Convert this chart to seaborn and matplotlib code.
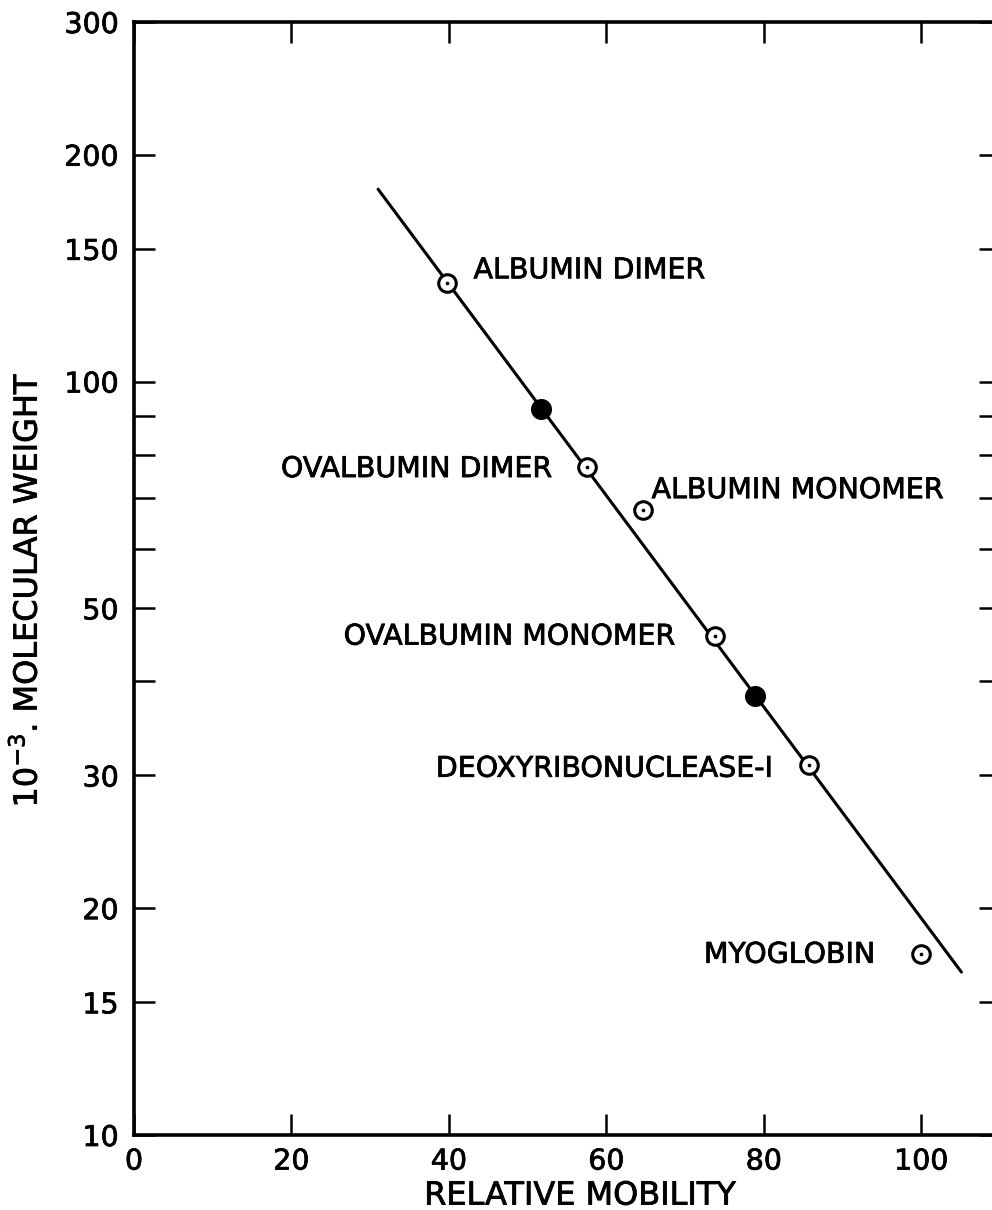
import matplotlib
matplotlib.use("Agg")
import matplotlib.pyplot as plt
import matplotlib.patheffects as pe
import seaborn as sns
import pandas as pd
from matplotlib.ticker import FixedLocator, FixedFormatter, NullLocator

# Calibration standards: relative mobility vs molecular weight (x 10^-3)
standards = ["ALBUMIN DIMER", "OVALBUMIN DIMER", "ALBUMIN MONOMER",
             "OVALBUMIN MONOMER", "DEOXYRIBONUCLEASE-I", "MYOGLOBIN"]
std_mobility = [39.7, 57.5, 64.6, 73.8, 85.7, 100.0]
std_mw = [135.0, 77.0, 67.5, 46.0, 31.0, 17.4]

# Unknown species (filled symbols)
unk_mobility = [51.7, 78.9]
unk_mw = [92.0, 38.3]

# Calibration line endpoints
fit_mobility = [31.0, 105.1]
fit_mw = [180.0, 16.45]

# Axis ticks
x_ticks = [0, 20, 40, 60, 80, 100]
x_tick_labels = ["0", "20", "40", "60", "80", "100"]
y_ticks = [10, 15, 20, 30, 40, 50, 60, 70, 80, 90, 100, 150, 200, 300]
y_tick_labels = ["10", "15", "20", "30", "", "50", "", "", "", "", "100", "150", "200", "300"]

sns.set_theme(style="ticks")
plt.rcParams["font.family"] = ["DejaVu Sans"]

# slightly heavier lettering
ink = [pe.withStroke(linewidth=0.55, foreground="black")]

fig = plt.figure(figsize=(9.92, 12.10), dpi=100)
ax = fig.add_axes([134 / 992, 75 / 1210, 866 / 992, 1113 / 1210])

std_df = pd.DataFrame({"mobility": std_mobility, "mw": std_mw, "protein": standards})
unk_df = pd.DataFrame({"mobility": unk_mobility, "mw": unk_mw})
fit_df = pd.DataFrame({"mobility": fit_mobility, "mw": fit_mw})

sns.lineplot(data=fit_df, x="mobility", y="mw", ax=ax, color="black",
             linewidth=2.2, zorder=2)
sns.scatterplot(data=std_df, x="mobility", y="mw", ax=ax, s=160, marker="o",
                facecolor="white", edgecolor="black", linewidth=2.2, zorder=3)
sns.scatterplot(data=std_df, x="mobility", y="mw", ax=ax, s=7, marker="o",
                color="black", edgecolor="black", linewidth=0, zorder=4)
sns.scatterplot(data=unk_df, x="mobility", y="mw", ax=ax, s=230, marker="o",
                color="black", edgecolor="black", linewidth=0, zorder=4)

# Label placement relative to each symbol (pixels: dx, dy to baseline, alignment)
label_offsets = [(27, 5, "left"), (-35, -10, "right"), (9, 12, "left"),
                 (-40, -9, "right"), (-36, -12, "right"), (-46, -9, "right")]
for name, xv, yv, (dx, dy, ha) in zip(standards, std_mobility, std_mw, label_offsets):
    ax.annotate(name, xy=(xv, yv), xytext=(dx * 0.72, dy * 0.72),
                textcoords="offset points", ha=ha, va="baseline",
                fontsize=20.5, color="black", path_effects=ink)

ax.set_yscale("log")
ax.set_xlim(0, 110)
ax.set_ylim(10, 300)

ax.xaxis.set_major_locator(FixedLocator(x_ticks))
ax.xaxis.set_major_formatter(FixedFormatter(x_tick_labels))
ax.yaxis.set_major_locator(FixedLocator(y_ticks))
ax.yaxis.set_major_formatter(FixedFormatter(y_tick_labels))
ax.xaxis.set_minor_locator(NullLocator())
ax.yaxis.set_minor_locator(NullLocator())

ax.tick_params(axis="both", which="major", direction="in", length=15, width=1.8,
               top=True, right=True, labelsize=20.5, colors="black")
ax.tick_params(axis="x", pad=9)
ax.tick_params(axis="y", pad=11)
for lbl in ax.get_xticklabels() + ax.get_yticklabels():
    lbl.set_path_effects(ink)

for side in ["left", "right", "top", "bottom"]:
    ax.spines[side].set_visible(True)
    ax.spines[side].set_linewidth(2.6)
    ax.spines[side].set_color("black")

ax.set_xlabel("RELATIVE MOBILITY", fontsize=23, color="black", path_effects=ink)
ax.xaxis.set_label_coords(0.515, -0.041)
ax.set_ylabel("10$^{-3}$. MOLECULAR WEIGHT", fontsize=23, color="black",
              path_effects=ink)
ax.yaxis.set_label_coords(-0.104, 0.49)

ax.set_facecolor("white")
fig.patch.set_facecolor("white")
fig.savefig("out.png", dpi=100)
